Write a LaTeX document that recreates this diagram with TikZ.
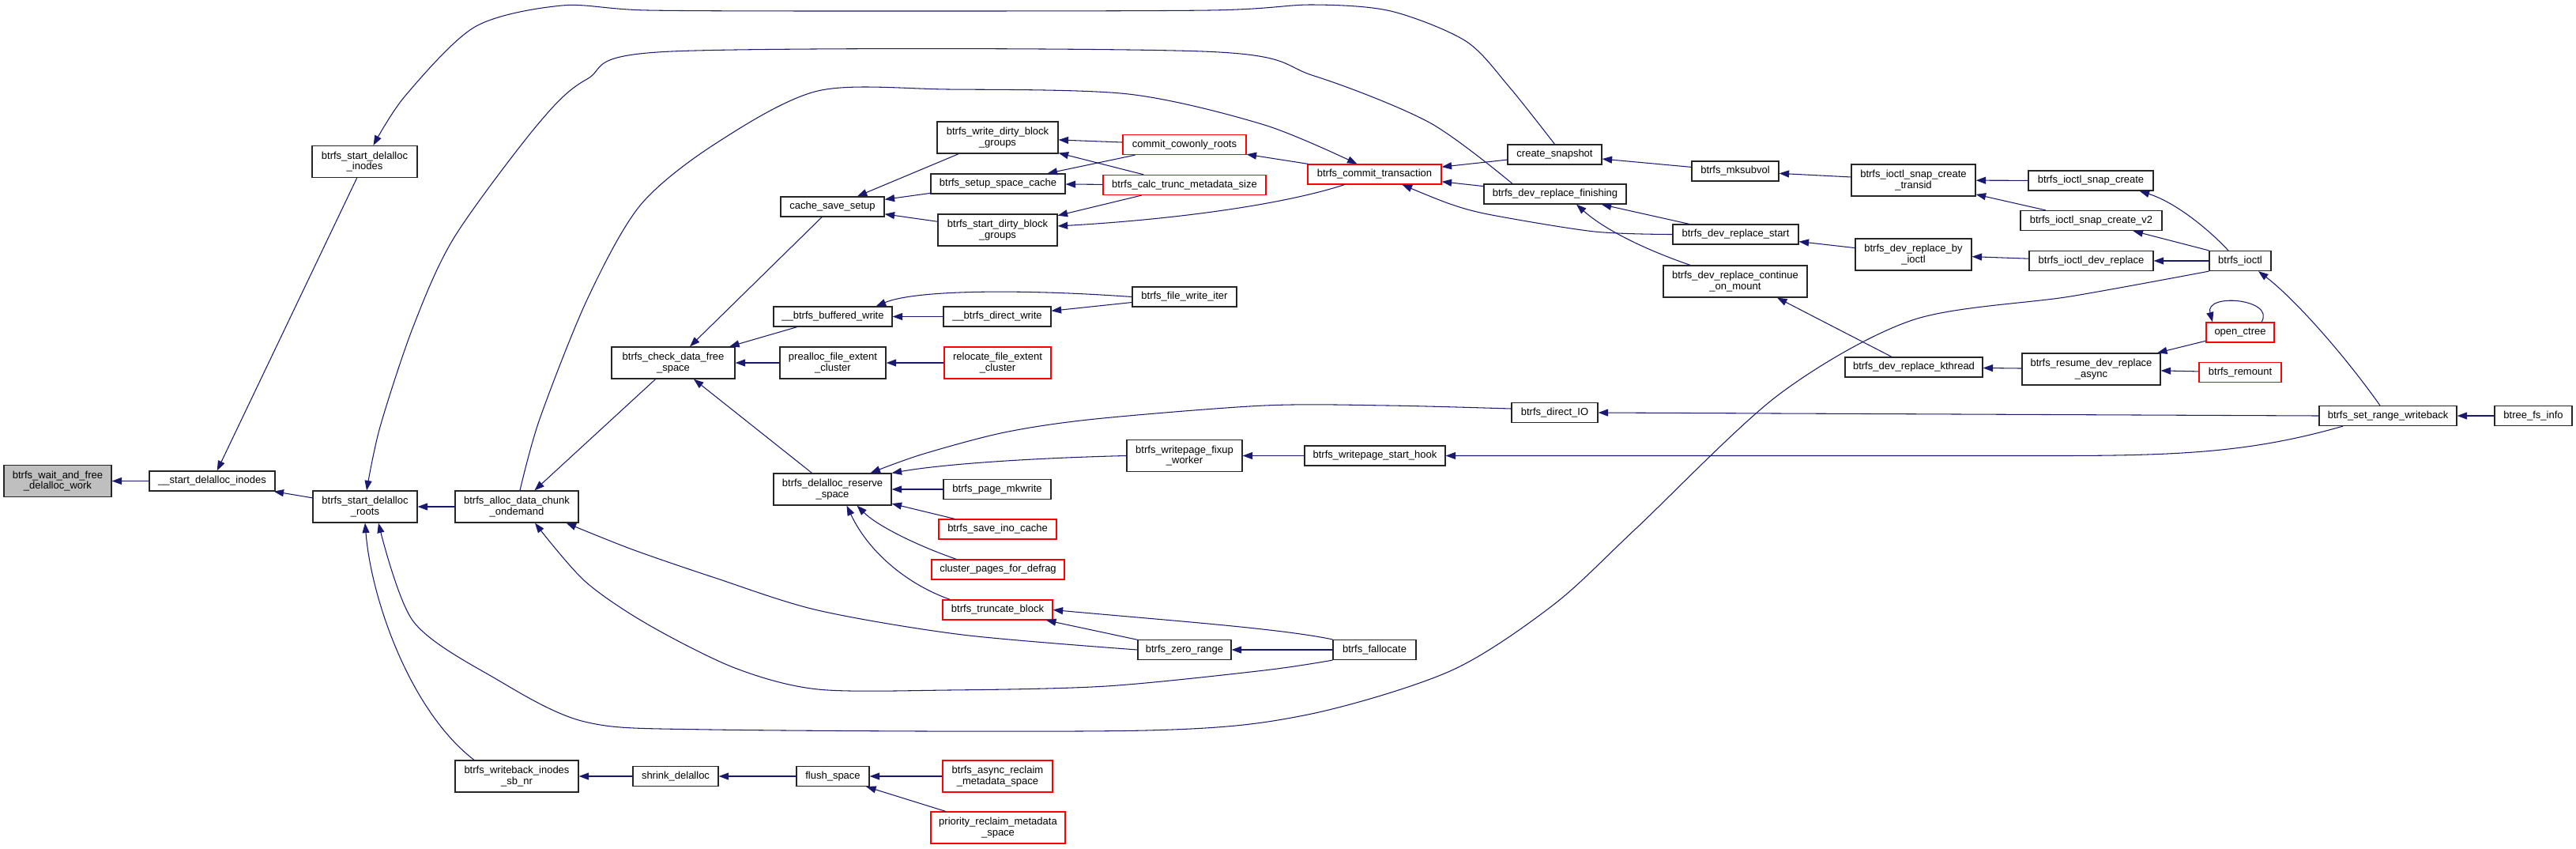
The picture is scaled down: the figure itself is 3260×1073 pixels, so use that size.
\documentclass[tikz,border=0pt]{standalone}
\usepackage{fontspec}
\setmainfont{Liberation Sans}
\usetikzlibrary{arrows.meta,calc}
\definecolor{edgeblue}{HTML}{191970}
\definecolor{cutred}{HTML}{FF0000}
\definecolor{rootgray}{HTML}{BFBFBF}
\newcommand{\fnfont}{\fontsize{7.4pt}{7.7pt}\selectfont}
\tikzset{
  fnbox/.style={draw=black!85, line width=0.7pt, fill=white, align=center,
    inner sep=1pt, minimum height=0.5cm, font=\fnfont},
  fnboxtwo/.style={fnbox, minimum height=0.8cm},
  cutbox/.style={draw=cutred},
  rootbox/.style={fill=rootgray},
  callarr/.style={draw=edgeblue, line width=0.6pt,
    -{Triangle[length=0.25cm,width=0.18cm]}}
}

\begin{document}
\begin{tikzpicture}[x=0.02cm,y=-0.02cm]
  \useasboundingbox (0,0) rectangle (3260,1073);

  % functions, column by column
  \node[fnboxtwo, rootbox, minimum width=2.72cm] (wait) at (73,608.5) {btrfs\_wait\_and\_free\\\_delalloc\_work};
  \node[fnbox, minimum width=3.18cm] (sdi) at (268.5,608.5) {\_\_start\_delalloc\_inodes};
  \node[fnboxtwo, minimum width=2.66cm] (bsdi) at (461.5,204.5) {btrfs\_start\_delalloc\\\_inodes};
  \node[fnboxtwo, minimum width=2.64cm] (bsdr) at (462,641) {btrfs\_start\_delalloc\\\_roots};
  \node[fnboxtwo, minimum width=3.12cm] (adc) at (654,641) {btrfs\_alloc\_data\_chunk\\\_ondemand};
  \node[fnboxtwo, minimum width=3.12cm] (wisn) at (654,982) {btrfs\_writeback\_inodes\\\_sb\_nr};
  \node[fnboxtwo, minimum width=3.12cm] (cdfs) at (852,459) {btrfs\_check\_data\_free\\\_space};
  \node[fnbox, minimum width=2.16cm] (shd) at (855,982) {shrink\_delalloc};
  \node[fnbox, minimum width=2.62cm] (css) at (1053.5,261.5) {cache\_save\_setup};
  \node[fnbox, minimum width=3.00cm] (bbw) at (1054,400.5) {\_\_btrfs\_buffered\_write};
  \node[fnboxtwo, minimum width=2.68cm] (pfec) at (1054,459) {prealloc\_file\_extent\\\_cluster};
  \node[fnboxtwo, minimum width=2.98cm] (drs) at (1053.5,619) {btrfs\_delalloc\_reserve\\\_space};
  \node[fnbox, minimum width=1.84cm] (fsp) at (1054,982) {flush\_space};
  \node[fnboxtwo, minimum width=3.06cm] (wdbg) at (1262.5,174) {btrfs\_write\_dirty\_block\\\_groups};
  \node[fnbox, minimum width=3.40cm] (ssc) at (1263,232.5) {btrfs\_setup\_space\_cache};
  \node[fnboxtwo, minimum width=3.02cm] (sdbg) at (1262.5,291) {btrfs\_start\_dirty\_block\\\_groups};
  \node[fnbox, minimum width=2.72cm] (bdw) at (1262,400.5) {\_\_btrfs\_direct\_write};
  \node[fnboxtwo, cutbox, minimum width=2.70cm] (rfec) at (1262.5,459) {relocate\_file\_extent\\\_cluster};
  \node[fnbox, minimum width=2.72cm] (pmw) at (1262,619) {btrfs\_page\_mkwrite};
  \node[fnbox, cutbox, minimum width=2.98cm] (sic) at (1262.5,669.5) {btrfs\_save\_ino\_cache};
  \node[fnbox, cutbox, minimum width=3.36cm] (cpfd) at (1263,720.5) {cluster\_pages\_for\_defrag};
  \node[fnbox, cutbox, minimum width=2.78cm] (tb) at (1262.5,771.5) {btrfs\_truncate\_block};
  \node[fnboxtwo, cutbox, minimum width=2.78cm] (arms) at (1262.5,982) {btrfs\_async\_reclaim\\\_metadata\_space};
  \node[fnboxtwo, cutbox, minimum width=3.40cm] (prms) at (1263,1047) {priority\_reclaim\_metadata\\\_space};
  \node[fnbox, cutbox, minimum width=3.12cm] (ccr) at (1499,183) {commit\_cowonly\_roots};
  \node[fnbox, cutbox, minimum width=4.12cm] (ctms) at (1499,234) {btrfs\_calc\_trunc\_metadata\_size};
  \node[fnbox, minimum width=2.64cm] (fwi) at (1499,375.5) {btrfs\_file\_write\_iter};
  \node[fnboxtwo, minimum width=2.92cm] (wfw) at (1499,576.5) {btrfs\_writepage\_fixup\\\_worker};
  \node[fnbox, minimum width=2.36cm] (zr) at (1499,822) {btrfs\_zero\_range};
  \node[fnbox, cutbox, minimum width=3.38cm] (bct) at (1739.5,220.5) {btrfs\_commit\_transaction};
  \node[fnbox, minimum width=3.56cm] (wsh) at (1740,576.5) {btrfs\_writepage\_start\_hook};
  \node[fnbox, minimum width=2.10cm] (bfa) at (1739.5,822) {btrfs\_fallocate};
  \node[fnbox, minimum width=2.38cm] (csn) at (1967.5,195.5) {create\_snapshot};
  \node[fnbox, minimum width=3.60cm] (drf) at (1968,245.5) {btrfs\_dev\_replace\_finishing};
  \node[fnbox, minimum width=2.18cm] (dio) at (1967.5,522) {btrfs\_direct\_IO};
  \node[fnbox, minimum width=2.20cm] (msv) at (2196,216.5) {btrfs\_mksubvol};
  \node[fnbox, minimum width=3.18cm] (drst) at (2196.5,296.5) {btrfs\_dev\_replace\_start};
  \node[fnboxtwo, minimum width=3.64cm] (drcm) at (2196,356) {btrfs\_dev\_replace\_continue\\\_on\_mount};
  \node[fnboxtwo, minimum width=3.14cm] (isct) at (2421.5,228) {btrfs\_ioctl\_snap\_create\\\_transid};
  \node[fnboxtwo, minimum width=2.94cm] (drbi) at (2421.5,322) {btrfs\_dev\_replace\_by\\\_ioctl};
  \node[fnbox, minimum width=3.48cm] (drk) at (2422,464.5) {btrfs\_dev\_replace\_kthread};
  \node[fnbox, minimum width=3.16cm] (isc) at (2646,228.5) {btrfs\_ioctl\_snap\_create};
  \node[fnbox, minimum width=3.58cm] (isc2) at (2646.5,279) {btrfs\_ioctl\_snap\_create\_v2};
  \node[fnbox, minimum width=3.14cm] (idr) at (2646.5,330) {btrfs\_ioctl\_dev\_replace};
  \node[fnboxtwo, minimum width=3.50cm] (rdra) at (2646.5,467) {btrfs\_resume\_dev\_replace\\\_async};
  \node[fnbox, minimum width=1.56cm] (ioc) at (2835,330) {btrfs\_ioctl};
  \node[fnbox, cutbox, minimum width=1.72cm] (oct) at (2835,420.5) {open\_ctree};
  \node[fnbox, cutbox, minimum width=2.08cm] (rmt) at (2835,471) {btrfs\_remount};
  \node[fnbox, minimum width=3.48cm] (srw) at (3022,526) {btrfs\_set\_range\_writeback};
  \node[fnbox, minimum width=1.96cm] (bfi) at (3206,526) {btree\_fs\_info};

  % calls, arrow at the called function
  \draw[callarr] (sdi) -- (wait);
  \draw[callarr] (bsdi) -- (sdi);
  \draw[callarr] (bsdr) -- (sdi);
  \draw[callarr] plot[smooth, tension=0.5] coordinates {(csn.north) (1910,110) (1855,52) (1760,14) (1660,6) (1530,13) (1100,14) (820,13) (711,7) (601,34) (513,121) ($(bsdi.north)+(11,0)$)};
  \draw[callarr] (adc) -- (bsdr);
  \draw[callarr] plot[smooth, tension=0.5] coordinates {($(drf.north)+(-54,0)$) (1809,155) (1663,96) (1522,65) (850,65) (743,100) (680,158) (575,300) (523,413) (481,540) ($(bsdr.north)+(2,0)$)};
  \draw[callarr] ($(wisn.north)+(-54,0)$) .. controls (520,900) and (470,760) .. (bsdr.south);
  \draw[callarr] plot[smooth, tension=0.5] coordinates {(ioc.south west) (2620,375) (2420,405) (2250,500) (2071,668) (1966,765) (1835,849) (1650,905) (1450,924) (900,923) (740,913) (628,859) (523,786) ($(bsdr.south)+(17,0)$)};
  \draw[callarr] plot[smooth, tension=0.5] coordinates {($(adc.north)+(4,0)$) (683,530) (743,379) (810,260) (905,182) (1035,115) (1200,113) (1428,119) (1600,158) ($(bct.north)+(-22,0)$)};
  \draw[callarr] (cdfs) -- (adc);
  \draw[callarr] plot[smooth, tension=0.5] coordinates {(zr.west) (1218,803) (1035,772) (905,731) (800,695) ($(adc.south east)+(-16,0)$)};
  \draw[callarr] plot[smooth, tension=0.5] coordinates {(bfa.south west) (1600,848) (1400,868) (1200,873) (1035,872) (930,845) (820,790) (740,735) ($(adc.south)+(23,0)$)};
  \draw[callarr] (msv) -- (csn);
  \draw[callarr] (csn) -- (bct);
  \draw[callarr] (drf) -- (bct);
  \draw[callarr] plot[smooth, tension=0.5] coordinates {(drst.west) (2018,293) (1888,272) (1835,258) ($(bct.south)+(35,0)$)};
  \draw[callarr] (drst) -- (drf);
  \draw[callarr] ($(drcm.north)+(-57,0)$) .. controls (2080,315) and (2030,290) .. ($(drf.south)+(27,0)$);
  \draw[callarr] ($(drk.north)+(-28,0)$) -- ($(drcm.south)+(53,0)$);
  \draw[callarr] (drbi) -- (drst);
  \draw[callarr] (isct) -- (msv);
  \draw[callarr] (isc) -- (isct);
  \draw[callarr] (isc2) -- (isct);
  \draw[callarr] ($(ioc.north)+(-15,0)$) .. controls (2790,285) and (2750,255) .. ($(isc.south east)+(-18,0)$);
  \draw[callarr] (ioc.north west) -- ($(isc2.south)+(53,0)$);
  \draw[callarr] (ioc) -- (idr);
  \draw[callarr] (idr) -- (drbi);
  \draw[callarr] ($(srw.north)+(-10,0)$) .. controls (2960,440) and (2900,375) .. ($(ioc.south)+(23,0)$);
  \draw[callarr] (bfi) -- (srw);
  \draw[callarr] (srw.west) -- (dio.east);
  \draw[callarr] ($(srw.south)+(-57,0)$) .. controls (2850,572) and (2760,576.5) .. (2600,576.5) -- (wsh.east);
  \draw[callarr] (rdra) -- (drk);
  \draw[callarr] (oct) -- (rdra);
  \draw[callarr] (rmt) -- (rdra);
  \draw[callarr] ($(oct.north)+(27,0)$) .. controls (2880,378) and (2790,370) .. ($(oct.north)+(-35,0)$);
  \draw[callarr] (wsh) -- (wfw);
  \draw[callarr] (wfw.west) .. controls (1320,579) and (1200,586) .. (drs.north east);
  \draw[callarr] plot[smooth, tension=0.5] coordinates {($(dio.west)+(0,-5)$) (1757,513) (1600,513) (1386,530) (1271,547) (1166,575) ($(drs.north)+(48,0)$)};
  \draw[callarr] (pmw) -- (drs);
  \draw[callarr] (sic) -- (drs);
  \draw[callarr] ($(cpfd.north west)+(32,0)$) .. controls (1160,690) and (1110,665) .. ($(drs.south)+(31,0)$);
  \draw[callarr] ($(tb.north west)+(10,0)$) .. controls (1150,740) and (1100,700) .. ($(drs.south)+(18,0)$);
  \draw[callarr] (bfa.north west) .. controls (1620,795) and (1480,785) .. (tb.east);
  \draw[callarr] (zr) -- (tb);
  \draw[callarr] (bfa) -- (zr);
  \draw[callarr] (drs) -- (cdfs);
  \draw[callarr] (pfec) -- (cdfs);
  \draw[callarr] (rfec) -- (pfec);
  \draw[callarr] (bbw) -- (cdfs);
  \draw[callarr] (css) -- (cdfs);
  \draw[callarr] (bdw) -- (bbw);
  \draw[callarr] (fwi.west) .. controls (1300,366) and (1160,366) .. ($(bbw.north east)+(-21,0)$);
  \draw[callarr] (fwi) -- (bdw);
  \draw[callarr] (wdbg) -- (css);
  \draw[callarr] (ssc) -- (css);
  \draw[callarr] (sdbg) -- (css);
  \draw[callarr] (ccr) -- (wdbg);
  \draw[callarr] (ccr) -- (ssc);
  \draw[callarr] (ctms) -- (wdbg);
  \draw[callarr] (ctms) -- (ssc);
  \draw[callarr] (ctms) -- (sdbg);
  \draw[callarr] (bct) -- (ccr);
  \draw[callarr] ($(bct.south)+(-38,0)$) .. controls (1620,260) and (1480,278) .. ($(sdbg.east)+(0,-5)$);
  \draw[callarr] (shd) -- (wisn);
  \draw[callarr] (fsp) -- (shd);
  \draw[callarr] (arms) -- (fsp);
  \draw[callarr] (prms) -- (fsp);
\end{tikzpicture}
\end{document}
